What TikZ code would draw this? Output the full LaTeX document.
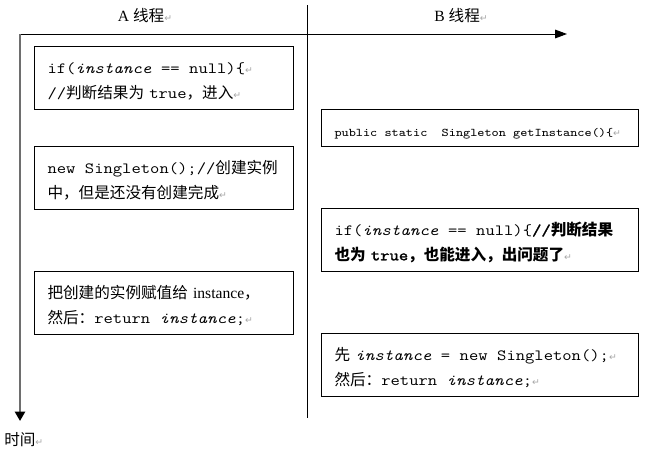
\documentclass[tikz,border=0pt]{standalone}
\usepackage{fontspec}
\setmainfont{Liberation Serif}
\setmonofont{Latin Modern Mono}[FakeStretch=1.16, AutoFakeBold=2]
\newfontfamily\cjk{Noto Sans CJK SC}
\newfontfamily\djv{DejaVu Sans}
\usetikzlibrary{arrows.meta}
\definecolor{axisgray}{HTML}{6E6E6E}
\newcommand\rmk{{\djv\color{gray!70}\fontsize{7}{7}\selectfont ↵}}
\newcommand\zh[1]{{\cjk #1}}
\newcommand\tsp{\hspace{0.61em}}
\begin{document}
\begin{tikzpicture}[x=0.75pt,y=-0.75pt,
  font=\fontsize{11.7}{18.75}\selectfont,
  abox/.style={draw, line width=0.75pt, anchor=north west, align=left,
    inner xsep=9.75pt, inner ysep=0pt, text width=174.75pt, minimum height=47.25pt,
    execute at begin node={\rule{0pt}{13.5pt}}},
  bbox/.style={abox, text width=218.25pt},
  thin line/.style={line width=0.75pt, black}]
\useasboundingbox (0,0) rectangle (645,451);

% axes
\coordinate (o) at (20,34);
\coordinate (h0) at (19,34);
\coordinate (hend) at (567,34);
\coordinate (tend) at (20,421);
\coordinate (d0) at (307,5);
\coordinate (d1) at (307,418);

\draw[thin line] (d0) -- (d1);
\draw[thin line, -{Triangle[length=9pt,width=6.5pt]}] (h0) -- (hend);
\draw[line width=1.8pt, axisgray, -{Triangle[length=7pt,width=7.5pt,color=black]}] (o) -- (tend);

% headers
\node (ta) at (145,16) {A~\zh{线程}\rmk};
\node (tb) at (461,16) {B~\zh{线程}\rmk};
\node[anchor=west, inner sep=0pt] (time) at (4,440) {\zh{时间}\rmk};

% thread A
\node[abox] (a1) at (34,46) {\texttt{if(\textit{instance}\tsp==\tsp null)\{}\rmk\\
  \texttt{//}\zh{判断结果为}~\texttt{true}\zh{，进入}\rmk};
\node[abox] (a2) at (34,146) {\texttt{new\tsp Singleton();//}\zh{创建实例}\\
  \zh{中，但是还没有创建完成}\rmk};
\node[abox] (a3) at (34,271) {\zh{把创建的实例赋值给}~instance\zh{，}\\
  \zh{然后：}\texttt{return\tsp\textit{instance};}\rmk};

% thread B
\node[bbox, minimum height=27.75pt, execute at begin node={\rule{0pt}{15pt}}] (b1) at (321,109)
  {{\fontsize{8.8}{10}\selectfont\texttt{public\tsp static\tsp\tsp Singleton\tsp getInstance()\{}}\rmk};
\node[bbox] (b2) at (321,208) {\texttt{if(\textit{instance}\tsp==\tsp null)\{}{\bfseries\texttt{//}\zh{判断结果}}\\
  {\bfseries\zh{也为}~\texttt{true}\zh{，也能进入，出问题了}}\rmk};
\node[bbox] (b3) at (321,333) {\zh{先}~\texttt{\textit{instance}\tsp=\tsp new\tsp Singleton();}\rmk\\
  \zh{然后：}\texttt{return\tsp\textit{instance};}\rmk};
\end{tikzpicture}
\end{document}
